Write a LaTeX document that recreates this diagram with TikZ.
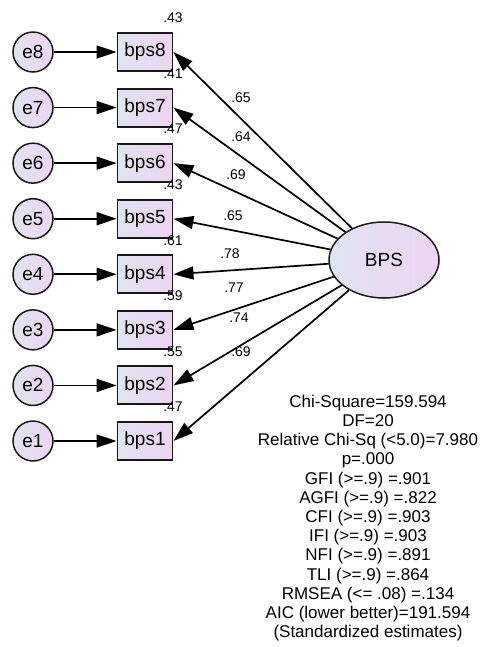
\documentclass[tikz,border=0pt]{standalone}
\usepackage{fontspec}
\setmainfont{Liberation Sans}
\usetikzlibrary{arrows.meta,shapes.geometric}
\definecolor{gA}{RGB}{224,228,240}
\definecolor{gB}{RGB}{238,212,243}
\begin{document}
\begin{tikzpicture}[x=1pt,y=-1pt,
 obs/.style={draw=black!90, line width=1.9pt, minimum width=55pt, minimum height=38pt, inner sep=0pt, left color=gA, right color=gB, font=\fontsize{19}{22}\selectfont},
 err/.style={circle, draw=black!90, line width=1.5pt, minimum size=40pt, inner sep=0pt, left color=gA, right color=gB, font=\fontsize{19}{22}\selectfont},
 lat/.style={ellipse, draw=black!90, line width=1.5pt, minimum width=110pt, minimum height=76pt, inner sep=0pt, left color=gA, right color=gB, font=\fontsize{19}{22}\selectfont},
 arr/.style={-{Triangle[length=20pt,width=13pt]}, line width=1.7pt},
 lab/.style={font=\fontsize{14}{16}\selectfont, inner sep=0pt},
 stats/.style={align=center, inner sep=0pt, font=\fontsize{17}{19.2}\selectfont}
]
\useasboundingbox (0,0) rectangle (482,647);
\foreach \k in {1,...,8} {
  \pgfmathsetmacro\yy{441-(\k-1)*55.57}
  \node[obs] (b\k) at (145,\yy) {bps\k};
  \node[err] (e\k) at (33,\yy) {e\k};
}
\node[lat] (BPS) at (384,260) {BPS};
\foreach \k in {1,...,8} {
  \draw[arr] (e\k) -- (b\k);
  \draw[arr] (BPS) -- (b\k.east);
}
\foreach \k/\v in {1/.47,2/.55,3/.59,4/.61,5/.43,6/.47,7/.41,8/.43} {
  \pgfmathsetmacro\yy{441-(\k-1)*55.57-34}
  \node[lab] (v\k) at (173,\yy) {\v};
}
\foreach \k/\v/\x/\y in {8/.65/241/98, 7/.64/241/137, 6/.69/236/175, 5/.65/233/216, 4/.78/230/254, 3/.77/234/288, 2/.74/239/318, 1/.69/241/352}
  \node[lab] (l\k) at (\x,\y) {\v};
\node[stats] (fit) at (368,518) {Chi-Square=159.594\\DF=20\\Relative Chi-Sq (<5.0)=7.980\\p=.000\\GFI (>=.9) =.901\\AGFI (>=.9) =.822\\CFI (>=.9) =.903\\IFI (>=.9) =.903\\NFI (>=.9) =.891\\TLI (>=.9) =.864\\RMSEA (<= .08) =.134\\AIC (lower better)=191.594\\(Standardized estimates)};
\end{tikzpicture}
\end{document}
